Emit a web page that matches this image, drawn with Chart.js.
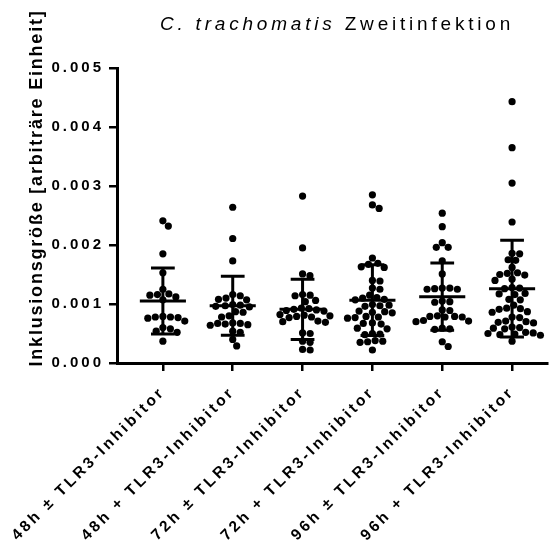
<!DOCTYPE html>
<html>
<head>
<meta charset="utf-8">
<script src="https://cdn.jsdelivr.net/npm/chart.js@4.4.1/dist/chart.umd.min.js"></script>
<style>
  html, body { margin: 0; padding: 0; background: #fff; }
  #wrap { width: 553px; height: 545px; }
</style>
</head>
<body>
<div id="wrap"><canvas id="chart" width="553" height="545"></canvas></div>
<script>
// Groups along the x axis
const categories = [
  '48h \u00b1 TLR3-Inhibitor',
  '48h + TLR3-Inhibitor',
  '72h \u00b1 TLR3-Inhibitor',
  '72h + TLR3-Inhibitor',
  '96h \u00b1 TLR3-Inhibitor',
  '96h + TLR3-Inhibitor'
];

const h48minus = [0.00241, 0.00232, 0.00185, 0.00153, 0.00125, 0.00117, 0.00116, 0.00115, 0.00112, 0.00107,
  0.00079, 0.00078, 0.00078, 0.00077, 0.00076, 0.00071, 0.00060, 0.00058, 0.00054, 0.00052, 0.00037];
const h48plus = [0.00264, 0.00211, 0.00173, 0.00116, 0.00114, 0.00110, 0.00108, 0.00107, 0.00099, 0.00098,
  0.00097, 0.00096, 0.00095, 0.00087, 0.00086, 0.00080, 0.00078, 0.00068, 0.00067, 0.00067, 0.00066,
  0.00065, 0.00064, 0.00054, 0.00052, 0.00040, 0.00029];
const h72minus = [0.00283, 0.00195, 0.00151, 0.00148, 0.00116, 0.00115, 0.00114, 0.00106, 0.00104, 0.00093,
  0.00092, 0.00091, 0.00090, 0.00089, 0.00088, 0.00082, 0.00081, 0.00080, 0.00079, 0.00078, 0.00077,
  0.00071, 0.00070, 0.00069, 0.00051, 0.00050, 0.00037, 0.00035, 0.00023, 0.00022];
const h72plus = [0.00285, 0.00268, 0.00262, 0.00178, 0.00169, 0.00167, 0.00163, 0.00162, 0.00140, 0.00139,
  0.00127, 0.00125, 0.00115, 0.00111, 0.00110, 0.00108, 0.00107, 0.00099, 0.00098, 0.00097, 0.00096,
  0.00088, 0.00087, 0.00086, 0.00085, 0.00079, 0.00078, 0.00077, 0.00076, 0.00068, 0.00067, 0.00066,
  0.00059, 0.00058, 0.00050, 0.00049, 0.00048, 0.00038, 0.00037, 0.00036, 0.00035, 0.00022];
const h96minus = [0.00254, 0.00231, 0.00204, 0.00196, 0.00196, 0.00173, 0.00151, 0.00127, 0.00127, 0.00126,
  0.00125, 0.00125, 0.00105, 0.00104, 0.00103, 0.00090, 0.00089, 0.00080, 0.00079, 0.00079, 0.00078,
  0.00078, 0.00072, 0.00071, 0.00070, 0.00059, 0.00058, 0.00057, 0.00036, 0.00028];
const h96plus = [0.00443, 0.00365, 0.00305, 0.00239, 0.00186, 0.00185, 0.00175, 0.00174, 0.00162, 0.00153,
  0.00152, 0.00150, 0.00149, 0.00142, 0.00140, 0.00128, 0.00127, 0.00126, 0.00118, 0.00117, 0.00116,
  0.00108, 0.00107, 0.00098, 0.00093, 0.00092, 0.00091, 0.00087, 0.00086, 0.00078, 0.00077, 0.00071,
  0.00070, 0.00069, 0.00068, 0.00061, 0.00060, 0.00059, 0.00058, 0.00052, 0.00051, 0.00050, 0.00049,
  0.00048, 0.00047, 0.00037];
const groups = [h48minus, h48plus, h72minus, h72plus, h96minus, h96plus];

// Mean and SD as drawn in the picture
const means = [0.00105, 0.00097, 0.00091, 0.001065, 0.001125, 0.00126];
const sds = [0.00056, 0.00050, 0.00051, 0.00060, 0.00057, 0.00082];

const yTicks = [0, 0.001, 0.002, 0.003, 0.004, 0.005];
const yTickLabels = ['0.000', '0.001', '0.002', '0.003', '0.004', '0.005'];

const titleItalic = 'C. trachomatis';
const titleRest = ' Zweitinfektion';
const yTitle = 'Inklusionsgr\u00f6\u00dfe [arbitr\u00e4re Einheit]';

const family = '"Liberation Sans", Arial, sans-serif';

// error bars: mean line, SD line and caps, split by null gaps
const bars = [];
means.forEach((m, i) => {
  const lo = m - sds[i];
  const hi = m + sds[i];
  bars.push(
    { x: i - 0.33, y: m }, { x: i + 0.33, y: m }, { x: i, y: null },
    { x: i, y: lo }, { x: i, y: hi }, { x: i, y: null },
    { x: i - 0.17, y: hi }, { x: i + 0.17, y: hi }, { x: i, y: null },
    { x: i - 0.17, y: lo }, { x: i + 0.17, y: lo }, { x: i, y: null }
  );
});

// start with all points in the middle of their column
const startPoints = [];
groups.forEach((vals, i) => vals.forEach(v => startPoints.push({ x: i, y: v })));

// canvas resets letterSpacing when resized, so set it again before drawing
const setSpacing = chart => { chart.ctx.letterSpacing = '3px'; };

const textPlugin = {
  id: 'texts',
  afterInit: setSpacing,
  beforeUpdate: setSpacing,
  beforeDraw: setSpacing,
  afterDraw(chart) {
    const ctx = chart.ctx;
    ctx.save();
    ctx.fillStyle = '#000';
    ctx.textBaseline = 'alphabetic';
    ctx.textAlign = 'left';

    // title, italic species name
    ctx.letterSpacing = '3.8px';
    ctx.font = 'italic 19px ' + family;
    const w1 = ctx.measureText(titleItalic).width;
    ctx.font = '19px ' + family;
    const w2 = ctx.measureText(titleRest).width;
    const x0 = 337 - (w1 + w2) / 2;
    ctx.font = 'italic 19px ' + family;
    ctx.fillText(titleItalic, x0, 30);
    ctx.font = '19px ' + family;
    ctx.fillText(titleRest, x0 + w1, 30);

    // y axis title
    ctx.letterSpacing = '1.8px';
    ctx.font = 'bold 18px ' + family;
    ctx.translate(41.5, 188);
    ctx.rotate(-Math.PI / 2);
    ctx.textAlign = 'center';
    ctx.fillText(yTitle, 0, 0);
    ctx.restore();
    setSpacing(chart);
  }
};

// simple beeswarm so the dots do not overlap
const swarm = chart => {
  const xs = chart.scales.x;
  const ys = chart.scales.y;
  const unit = xs.getPixelForValue(1) - xs.getPixelForValue(0);
  const D = 7.6;
  const out = [];
  groups.forEach((vals, i) => {
    const placed = [];
    vals.forEach(v => {
      const py = ys.getPixelForValue(v);
      const cands = [0];
      placed.forEach(p => {
        const dy = Math.abs(p.y - py);
        if (dy < D) {
          const dx = Math.sqrt(D * D - dy * dy);
          cands.push(p.x + dx, p.x - dx);
        }
      });
      cands.sort((a, b) => Math.abs(a) - Math.abs(b));
      const px = cands.find(c => placed.every(p => Math.hypot(p.x - c, p.y - py) >= D - 0.01));
      placed.push({ x: px, y: py });
      out.push({ x: i + px / unit, y: v });
    });
  });
  return out;
};

const ctx = document.getElementById('chart').getContext('2d');
const chart = new Chart(ctx, {
  type: 'scatter',
  data: {
    datasets: [
      {
        data: bars,
        showLine: true,
        spanGaps: false,
        borderColor: '#000',
        borderWidth: 3,
        borderCapStyle: 'butt',
        pointRadius: 0,
        order: 0
      },
      {
        data: startPoints,
        backgroundColor: '#000',
        borderWidth: 0,
        pointRadius: 3.6,
        order: 1
      }
    ]
  },
  options: {
    responsive: false,
    animation: false,
    layout: { padding: { top: 68, right: 6, left: 0, bottom: 0 } },
    plugins: {
      legend: { display: false },
      tooltip: { enabled: false }
    },
    scales: {
      x: {
        type: 'linear',
        min: -0.657,
        max: 5.5,
        afterBuildTicks: s => { s.ticks = categories.map((c, i) => ({ value: i })); },
        afterFit: s => { s.height = 182; s.paddingLeft = 0; s.paddingRight = 0; },
        border: { color: '#000', width: 3 },
        grid: { drawOnChartArea: false, tickLength: 8, tickWidth: 2.5, tickColor: '#000', lineWidth: 2.5 },
        ticks: {
          autoSkip: false,
          minRotation: 45,
          maxRotation: 45,
          padding: 12,
          color: '#000',
          font: { family: family, size: 15.5, weight: 'bold' },
          callback: v => categories[v]
        }
      },
      y: {
        min: 0,
        max: 0.005,
        afterBuildTicks: s => { s.ticks = yTicks.map(v => ({ value: v })); },
        afterFit: s => { s.width = 117; s.paddingTop = 0; s.paddingBottom = 0; },
        border: { color: '#000', width: 3 },
        grid: { drawOnChartArea: false, tickLength: 8, tickWidth: 2.5, tickColor: '#000', lineWidth: 2.5 },
        ticks: {
          padding: 5,
          color: '#000',
          font: { family: family, size: 15, weight: 'bold' },
          callback: (v, idx) => yTickLabels[idx]
        }
      }
    }
  },
  plugins: [textPlugin]
});

chart.data.datasets[1].data = swarm(chart);
chart.update('none');
</script>
</body>
</html>
